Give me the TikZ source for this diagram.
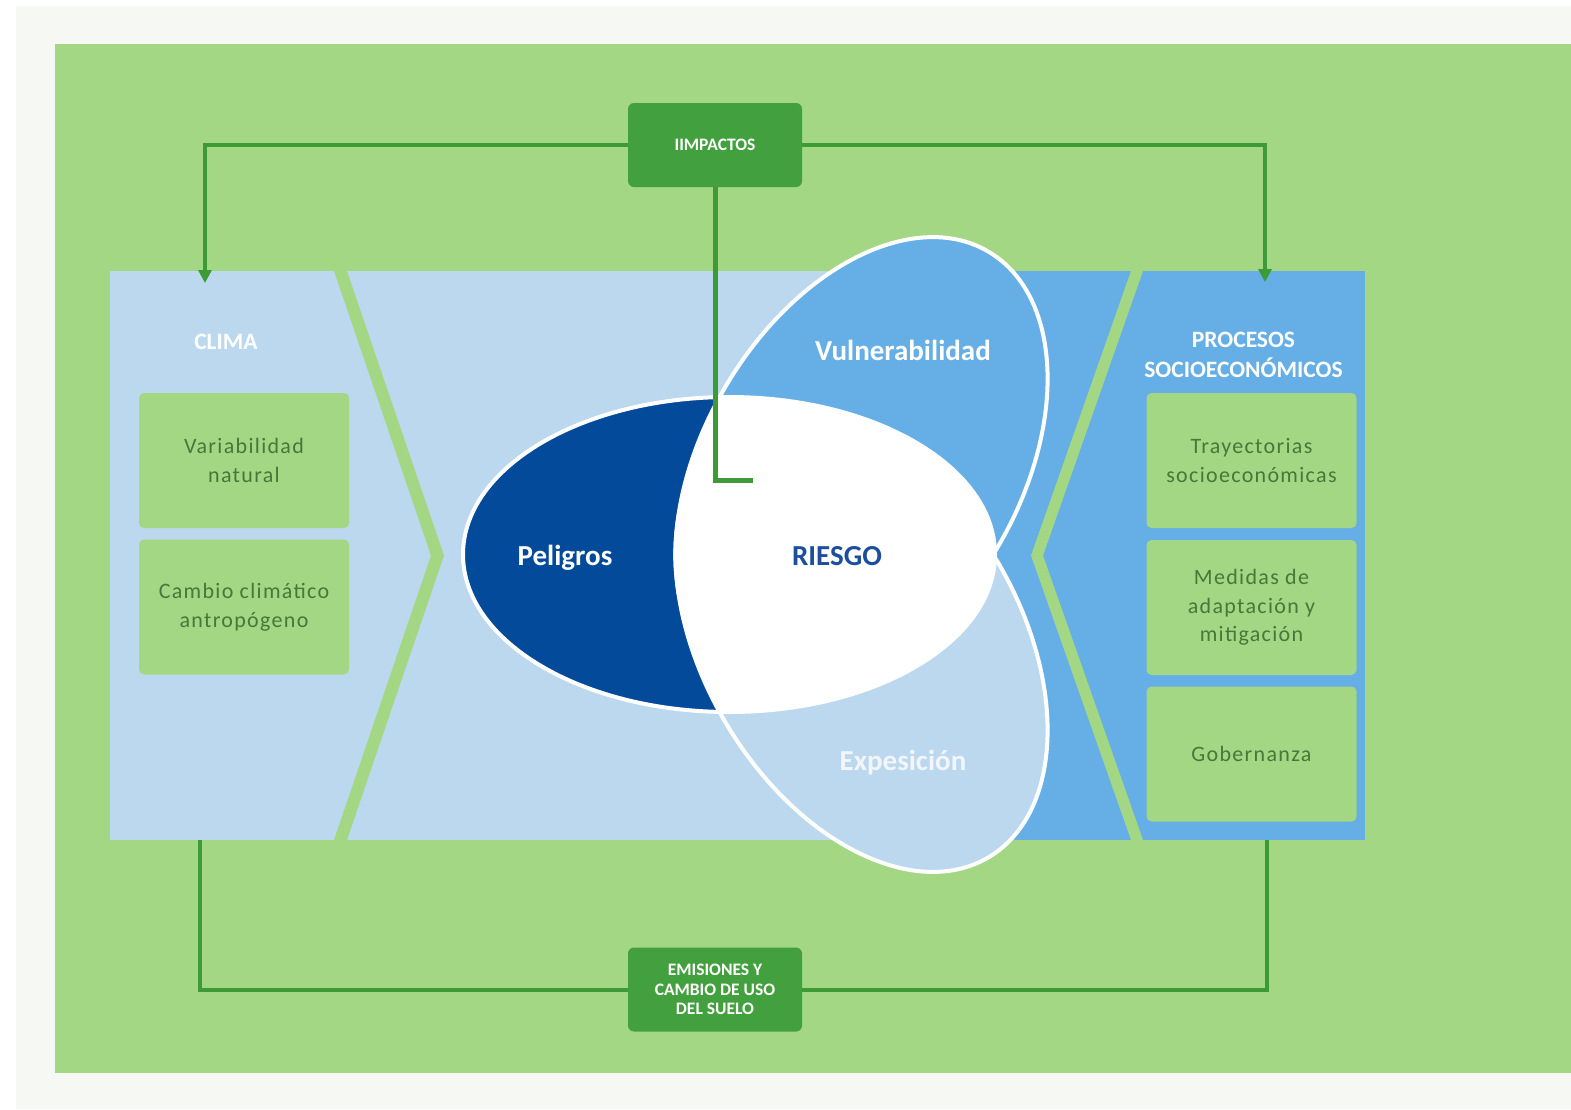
\documentclass[tikz,border=0pt]{standalone}
\usepackage{fontspec}
\setmainfont{Carlito}
\newfontfamily\boxfont[LetterSpace=6]{Carlito}
\usetikzlibrary{arrows.meta}
\definecolor{pagebg}{HTML}{F6F8F3}
\definecolor{bggreen}{HTML}{A3D783}
\definecolor{lightblue}{HTML}{BBD8EE}
\definecolor{midblue}{HTML}{66AEE6}
\definecolor{darkblue}{HTML}{044A9A}
\definecolor{riesgoblue}{HTML}{1D4E9E}
\definecolor{boxgreen}{HTML}{43A03E}
\definecolor{linegreen}{HTML}{3D9A36}
\definecolor{boxtext}{HTML}{45793A}
\definecolor{fadewhite}{HTML}{F2F6FA}
\tikzset{
  subbox/.style={fill=bggreen, rounded corners=5pt, minimum width=210pt, minimum height=135pt,
    inner sep=0pt, align=center, text=boxtext, font=\boxfont\fontsize{22}{28.5}\selectfont},
  gbox/.style={fill=boxgreen, rounded corners=6pt, minimum width=174pt, minimum height=84pt,
    inner sep=0pt, align=center, text=white, font=\bfseries\fontsize{17.5}{19.5}\selectfont},
  conn/.style={draw=linegreen, line width=4pt},
  tipdown/.style={-{Triangle[width=13pt,length=13pt]}},
  petal/.style={font=\bfseries\fontsize{29}{34}\selectfont, anchor=base, inner sep=0pt},
  head/.style={text=white, inner sep=0pt, align=center, font=\bfseries\fontsize{23.5}{30}\selectfont},
  outline/.style={draw=white, line width=4pt},
}
\begin{document}
\begin{tikzpicture}[x=1pt,y=-1pt]
\useasboundingbox (0,0) rectangle (1571,1109);
\fill[white] (0,0) rectangle (1571,1109);
\fill[pagebg] (16,6) rectangle (1571,1109);
\fill[bggreen] (55,44) rectangle (1571,1073);
% panel
\fill[lightblue] (110,271) rectangle (1365,840);
\fill[midblue] (990,271) rectangle (1365,840);
% chevrons
\fill[bggreen] (334,271) -- (347,271) -- (444,555.5) -- (347,840) -- (334,840) -- (431,555.5) -- cycle;
\fill[bggreen] (1131,271) -- (1143,271) -- (1043,555.5) -- (1143,840) -- (1131,840) -- (1031,555.5) -- cycle;
% side boxes
\node[subbox] (var) at (244,460.5) {Variabilidad\\natural};
\node[subbox] (cam) at (244,607) {Cambio climático\\antropógeno};
\node[subbox] (tra) at (1251.5,460.5) {Trayectorias\\socioeconómicas};
\node[subbox] (med) at (1251.5,607.5) {Medidas de\\adaptación y\\mitigación};
\node[subbox] (gob) at (1251.5,754) {Gobernanza};
% headings
\node[head, anchor=base] (clima) at (226,349) {CLIMA};
\node[head] (proc) at (1243.5,354.5) {PROCESOS\\SOCIOECONÓMICOS};
% petals
\fill[darkblue] (729,554.5) ellipse [x radius=266, y radius=157.5];
\fill[midblue, rotate around={59.5:(861.5,467)}] (861.5,467) ellipse [x radius=250, y radius=158];
\fill[lightblue, rotate around={-59.5:(861.5,642)}] (861.5,642) ellipse [x radius=250, y radius=158];
\begin{scope}
  \clip (729,554.5) ellipse [x radius=266, y radius=157.5];
  \fill[white, rotate around={59.5:(861.5,467)}] (861.5,467) ellipse [x radius=250, y radius=158];
  \fill[white, rotate around={-59.5:(861.5,642)}] (861.5,642) ellipse [x radius=250, y radius=158];
\end{scope}
\draw[outline] (729,554.5) ellipse [x radius=266, y radius=157.5];
\draw[outline, rotate around={59.5:(861.5,467)}] (861.5,467) ellipse [x radius=250, y radius=158];
\draw[outline, rotate around={-59.5:(861.5,642)}] (861.5,642) ellipse [x radius=250, y radius=158];
\node[petal, text=white] (vul) at (903,360) {Vulnerabilidad};
\node[petal, text=white] (pel) at (565,565) {Peligros};
\node[petal, text=riesgoblue] (rie) at (837,565) {RIESGO};
\node[petal, text=fadewhite] (exp) at (903,770) {Expesición};
% connector boxes
\node[gbox] (imp) at (715,145) {IIMPACTOS};
\node[gbox] (emi) at (715,989.5) {EMISIONES Y\\CAMBIO DE USO\\DEL SUELO};
\coordinate (climaTop) at (205,283);
\coordinate (procTop) at (1265,282);
\coordinate (riesgoEnd) at (753,480);
\coordinate (climaBot) at (200,840);
\coordinate (procBot) at (1267,840);
\draw[conn, tipdown] (imp.west) -| (climaTop);
\draw[conn, tipdown] (imp.east) -| (procTop);
\draw[conn, line width=5pt] (imp.south) |- (riesgoEnd);
\draw[conn] (emi.west) -| (climaBot);
\draw[conn] (emi.east) -| (procBot);
\end{tikzpicture}
\end{document}
